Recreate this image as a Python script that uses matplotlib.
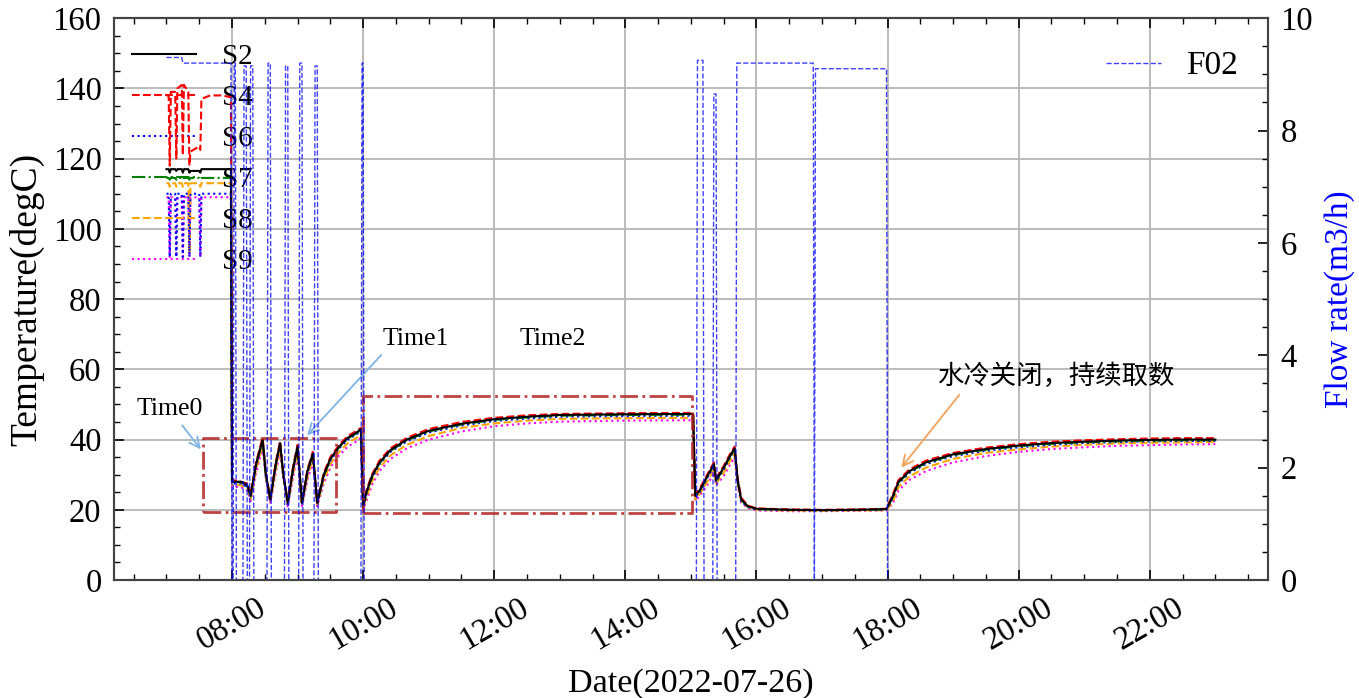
import matplotlib
matplotlib.use("Agg")
import matplotlib.pyplot as plt
import matplotlib.dates as mdates
import pandas as pd

plt.rcParams["font.family"] = ["Liberation Serif", "Noto Sans CJK SC"]

DAY = "2022-07-26 "

# ---- temperature data (degC) ----
pre_times = ["07:00", "07:02", "07:03", "07:04", "07:08", "07:09", "07:10", "07:14", "07:15", "07:16",
             "07:20", "07:21", "07:22", "07:30", "07:31", "07:32", "07:40", "07:50", "07:59"]
s2_pre = [117, 117, 116, 117, 117, 116.5, 117, 117, 116, 117, 117, 116, 116.5, 116.5, 116, 117, 117, 117, 117]
s4_pre = [138, 138, 118, 139, 139, 120, 140, 141, 121, 141, 139, 118, 122, 123.5, 122.5, 137, 138, 138, 137.5]
s6_pre = [110, 110, 92, 110, 110, 92, 110, 110, 92, 110, 110, 92, 110, 110, 92, 110, 110, 110, 110]
s7_pre = [114.5, 114.5, 114, 114.5, 114.5, 114, 114.5, 114.5, 114, 114.5, 114.5, 114, 114.5, 114.5, 114,
          114.5, 114.5, 114.5, 114.5]
s8_pre = [113, 113, 112, 113, 113, 112, 113, 113, 112, 113, 113, 93, 113, 113, 112, 113, 113, 113, 113]
s9_pre = [109, 109, 92, 109, 109, 92, 109, 109, 92, 109, 109, 92, 109, 109, 92, 109, 109, 109, 109]

main_times = ["08:00", "08:08", "08:14", "08:17", "08:22", "08:28", "08:31", "08:35", "08:40", "08:44",
              "08:47", "08:51", "08:56", "09:00", "09:02", "09:04", "09:09", "09:14", "09:16", "09:18",
              "09:24", "09:30", "09:38", "09:46", "09:54", "09:58",
              "10:00", "10:03", "10:08", "10:15", "10:25", "10:40", "11:00", "11:30", "12:00", "12:30",
              "13:00", "14:00", "15:02",
              "15:04", "15:08", "15:14", "15:21", "15:23", "15:30", "15:36", "15:40", "15:43", "15:46",
              "15:52", "16:00", "16:30", "17:00", "17:30", "17:59",
              "18:05", "18:10", "18:20", "18:35", "19:00", "19:30", "20:00", "20:30", "21:00", "21:30",
              "22:00", "22:30", "23:00"]
s2 = [28, 28, 27, 24, 33, 40, 30, 23, 33, 39, 30, 22, 32, 38, 30, 22, 31, 36, 29, 22, 30, 34.5, 38, 40.5, 42, 43,
      21, 25, 29.5, 33.5, 37, 40, 42.5, 44.5, 45.8, 46.5, 47, 47.2, 47.3,
      24, 25.5, 29, 33, 28.5, 32, 35.5, 37.5, 28, 23, 21, 20.3, 20, 19.9, 20, 20.2,
      24, 28, 31, 33.5, 35.8, 37.3, 38.3, 39, 39.4, 39.7, 39.9, 40, 40]
s4 = [28.5, 28, 27.5, 24.5, 33.5, 40.5, 30.5, 23, 33.5, 39.5, 30, 22.5, 32.5, 38.5, 30, 22, 31.5, 36.5, 29, 22,
      30.5, 35, 38.5, 41, 42.5, 43.3,
      21.5, 25.5, 30, 34, 37.5, 40.5, 43, 45, 46.2, 46.9, 47.3, 47.5, 47.6,
      24.5, 26, 29.5, 33.5, 29, 32.5, 36, 38, 28.5, 23.5, 21.2, 20.4, 20.1, 20, 20.1, 20.3,
      24.5, 28.5, 31.5, 34, 36.2, 37.7, 38.7, 39.4, 39.8, 40.1, 40.3, 40.4, 40.4]
s6 = [27.5, 27.5, 26.5, 23.5, 32.5, 39.5, 29.5, 22.5, 32.5, 38.5, 29.5, 21.5, 31.5, 37.5, 29.5, 21.5, 30.5, 35.5,
      28.5, 21.5, 29.5, 34, 37.5, 40, 41.5, 42.5,
      20.8, 24.5, 29, 33, 36.5, 39.5, 42, 44, 45.3, 46, 46.5, 46.7, 46.8,
      23.5, 25, 28.5, 32.5, 28, 31.5, 35, 37, 27.5, 22.5, 20.8, 20.1, 19.9, 19.8, 19.9, 20.1,
      23.5, 27.5, 30.5, 33, 35.3, 36.8, 37.8, 38.5, 39, 39.3, 39.5, 39.6, 39.6]
s7 = [28, 27.8, 26.8, 23.8, 32.8, 39.8, 29.8, 22.8, 32.8, 38.8, 29.8, 21.8, 31.8, 37.8, 29.8, 21.8, 30.8, 35.8,
      28.8, 21.8, 29.8, 34.3, 37.8, 40.3, 41.8, 42.8,
      21, 24.8, 29.3, 33.3, 36.8, 39.8, 42.3, 44.3, 45.6, 46.3, 46.8, 47, 47.1,
      23.8, 25.3, 28.8, 32.8, 28.3, 31.8, 35.3, 37.3, 27.8, 22.8, 21, 20.2, 20, 19.9, 20, 20.1,
      23.8, 27.8, 30.8, 33.3, 35.6, 37.1, 38.1, 38.8, 39.2, 39.5, 39.7, 39.8, 39.8]
s8 = [27, 27, 26, 23, 31.5, 38.5, 29.5, 22.5, 31.5, 37.5, 29.5, 21.5, 30.5, 36.5, 29, 21.5, 29.5, 34.5, 28, 21.5,
      28.5, 33, 36.5, 39, 40.5, 41.5,
      20.5, 23.5, 28, 32, 35.5, 38.5, 41, 43.3, 44.6, 45.4, 45.9, 46.1, 46.2,
      23, 24.5, 27.5, 31.5, 27.5, 30.5, 34, 36, 27, 22.5, 20.8, 20, 19.8, 19.7, 19.8, 19.9,
      22.5, 26.5, 29.5, 32, 34.5, 36.2, 37.2, 38, 38.5, 38.9, 39.1, 39.2, 39.3]
s9 = [26.5, 26.5, 25.5, 22.5, 30.5, 37.5, 29, 22, 30.5, 36.5, 29, 21, 29.5, 35.5, 28.5, 21, 28.5, 33.5, 27.5, 21,
      27.5, 32, 35.5, 38, 39.5, 40.5,
      20.2, 22.5, 27, 31, 34.5, 37.5, 40, 42.3, 43.8, 44.6, 45.1, 45.4, 45.5,
      22.5, 24, 26.5, 30.5, 27, 29.5, 33, 35, 26.5, 22, 20.5, 19.8, 19.6, 19.6, 19.7, 19.8,
      22, 25.5, 28.5, 31, 33.5, 35.3, 36.5, 37.3, 37.8, 38.2, 38.4, 38.6, 38.7]

# ---- flow rate F02 (m3/h) ----
f02_times = ["07:00", "07:14", "07:15", "07:59",
             "08:00", "08:01", "08:02", "08:03", "08:04", "08:10", "08:11", "08:13", "08:14", "08:16",
             "08:17", "08:19", "08:20", "08:32", "08:33", "08:35", "08:36", "08:48", "08:49", "08:51",
             "08:52", "09:01", "09:02", "09:04", "09:05", "09:15", "09:16", "09:18", "09:19", "09:58",
             "09:59", "10:00", "10:01",
             "15:05", "15:06", "15:11", "15:12", "15:20", "15:21", "15:23", "15:24", "15:41", "15:42",
             "16:52", "16:53", "16:54", "17:59", "18:00", "23:00"]
f02 = [9.3, 9.3, 9.2, 9.2,
       0, 0, 9.2, 9.2, 0, 0, 9.15, 9.15, 0, 0,
       9.15, 9.15, 0, 0, 9.2, 9.2, 0, 0, 9.15, 9.15,
       0, 0, 9.2, 9.2, 0, 0, 9.15, 9.15, 0, 0,
       9.2, 9.2, 0,
       0, 9.25, 9.25, 0, 0, 8.65, 8.65, 0, 0, 9.2,
       9.2, 0, 9.1, 9.1, 0, 0]

# ---- boxes and annotations ----
box_times = [("07:33", "09:35"), ("10:00", "15:01")]
box_temps = [(19.5, 40.5), (19.2, 52.5)]


def to_dt(times):
    return pd.to_datetime([DAY + t for t in times])


def one(t):
    return pd.Timestamp(DAY + t)


temp_series = {
    "S2": (s2_pre, s2, dict(color="black", ls="-", zorder=8)),
    "S4": (s4_pre, s4, dict(color="red", ls="--", zorder=7)),
    "S6": (s6_pre, s6, dict(color="blue", ls=":", zorder=5)),
    "S7": (s7_pre, s7, dict(color="green", ls="-.", zorder=6)),
    "S8": (s8_pre, s8, dict(color="orange", ls="--", zorder=4)),
    "S9": (s9_pre, s9, dict(color="magenta", ls=":", zorder=3)),
}

fig = plt.figure(figsize=(13.59, 6.98), dpi=100)
ax1 = fig.add_axes([0.0839, 0.169, 0.849, 0.805])
ax2 = ax1.twinx()

all_times = to_dt(pre_times + main_times)
for name, (pre, main, style) in temp_series.items():
    ax1.plot(all_times, pre + main, lw=1.5, label=name, **style)

ax2.plot(to_dt(f02_times), f02, color="blue", ls="--", lw=1.0, alpha=0.75, label="F02")

# dash-dot boxes
for (t0, t1), (y0, y1) in zip(box_times, box_temps):
    ax1.plot([one(t0), one(t1), one(t1), one(t0), one(t0)], [y0, y0, y1, y1, y0],
             color="#b22222", ls="-.", lw=2.0, alpha=0.85, zorder=9)

arrow_blue = dict(arrowstyle="->", color="#7fb2e5", lw=1.3)
ax1.annotate("Time0", xy=(one("07:33"), 36.6), xytext=(one("07:03"), 48.6), ha="center", va="center",
             fontsize=18.5, arrowprops=arrow_blue, zorder=10)
ax1.annotate("Time1", xy=(one("09:07"), 40.6), xytext=(one("10:48"), 68.6), ha="center", va="center",
             fontsize=18.5, arrowprops=dict(relpos=(0.05, 0.0), **arrow_blue), zorder=10)
ax1.text(one("12:54"), 68.6, "Time2", ha="center", va="center", fontsize=18.5)
ax1.annotate("水冷关闭，持续取数", xy=(one("18:11"), 31.4), xytext=(one("20:34"), 58),
             ha="center", va="center", fontsize=19, family=["Noto Sans CJK SC"],
             arrowprops=dict(arrowstyle="->", color="#f2a35e", lw=1.3, relpos=(0.11, 0.0)), zorder=10)

ax1.set_ylim(0, 160)
ax2.set_ylim(0, 10)
ax1.set_yticks(range(0, 161, 20))
ax1.yaxis.set_minor_locator(matplotlib.ticker.MultipleLocator(5))
ax2.set_yticks(range(0, 11, 2))
ax2.yaxis.set_minor_locator(matplotlib.ticker.MultipleLocator(0.5))

ax1.xaxis.set_major_locator(mdates.HourLocator(byhour=range(0, 24, 2)))
ax1.xaxis.set_minor_locator(mdates.MinuteLocator(byminute=[0, 30]))
ax1.xaxis.set_major_formatter(mdates.DateFormatter("%H:%M"))

for ax in (ax1, ax2):
    ax.tick_params(which="both", direction="in", labelsize=23.5, pad=9)
    ax.tick_params(which="major", length=7, width=1.2)
    ax.tick_params(which="minor", length=4, width=1.0)
    for sp in ax.spines.values():
        sp.set_linewidth(1.5)
        sp.set_color("#444444")
ax1.tick_params(which="both", top=True, right=False)
ax1.tick_params(axis="x", rotation=30)

ax1.grid(True, which="major", color="#b5b5b5", lw=1.3)
ax1.set_axisbelow(True)

ax1.set_xlabel("Date(2022-07-26)", fontsize=24.5, labelpad=9)
ax1.set_ylabel("Temperature(degC)", fontsize=27, labelpad=6)
ax2.set_ylabel("Flow rate(m3/h)", fontsize=24, color="blue", labelpad=8)

ax1.legend(loc="upper left", frameon=False, fontsize=21, handlelength=2.2, handletextpad=0.9,
           labelspacing=0.5, borderaxespad=0.2, bbox_to_anchor=(0.0, 0.985))
ax2.legend(loc="upper right", frameon=False, fontsize=24, handlelength=1.65, handletextpad=0.75,
           bbox_to_anchor=(1.0, 0.995))

fig.savefig("out.png", dpi=100)
